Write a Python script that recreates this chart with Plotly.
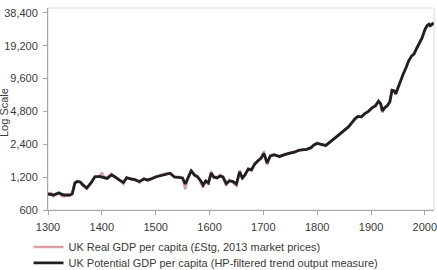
import plotly.graph_objects as go

years = [1300, 1305, 1310, 1315, 1320, 1325, 1330, 1335, 1340, 1345, 1350, 1355, 1360, 1365, 1372,
         1380, 1387, 1395, 1400, 1405, 1410, 1418, 1425, 1432, 1440, 1446, 1455, 1462, 1470, 1478,
         1485, 1492, 1500, 1510, 1520, 1527, 1535, 1545, 1550, 1555, 1560, 1566, 1572, 1578, 1584,
         1588, 1593, 1598, 1603, 1608, 1614, 1620, 1625, 1631, 1637, 1643, 1650, 1656, 1661, 1666,
         1672, 1678, 1684, 1690, 1696, 1701, 1707, 1713, 1720, 1730, 1740, 1750, 1757, 1765, 1772,
         1780, 1788, 1794, 1800, 1808, 1816, 1822, 1830, 1838, 1845, 1852, 1858, 1865, 1870, 1876,
         1882, 1888, 1895, 1902, 1908, 1914, 1918, 1921, 1925, 1930, 1935, 1939, 1943, 1946, 1950,
         1955, 1960, 1965, 1970, 1975, 1980, 1985, 1990, 1995, 2000, 2004, 2008, 2010, 2013, 2016]

real_gdp = [830, 860, 800, 850, 870, 810, 800, 820, 810, 870, 1080, 1110, 1070, 1000, 940,
            1080, 1230, 1200, 1320, 1170, 1190, 1290, 1180, 1150, 1040, 1200, 1140, 1150, 1070, 1170,
            1110, 1170, 1220, 1260, 1300, 1290, 1190, 1210, 1160, 930, 1200, 1400, 1240, 1230, 1080,
            960, 1130, 1020, 1360, 1180, 1200, 1260, 1180, 1000, 1130, 1070, 1000, 1390, 1150, 1290,
            1400, 1440, 1550, 1730, 1760, 2080, 1560, 1900, 1950, 1830, 1960, 1980, 2060, 2090, 2150,
            2130, 2250, 2350, 2480, 2380, 2330, 2490, 2640, 2850, 3040, 3280, 3450, 3830, 4080, 4360,
            4250, 4600, 4780, 5220, 5380, 6050, 5700, 4700, 5120, 5350, 5950, 7600, 7400, 6850, 7950,
            9100, 10600, 12100, 14000, 15300, 16100, 18300, 20500, 22800, 27100, 29500, 30400, 29200, 29900, 31300]

potential_gdp = [841, 835, 824, 840, 859, 840, 824, 826, 824, 841, 1061, 1096, 1084, 1018, 955,
                 1061, 1205, 1218, 1205, 1180, 1168, 1257, 1205, 1131, 1073, 1180, 1155, 1131, 1096, 1155,
                 1131, 1155, 1205, 1244, 1284, 1305, 1205, 1192, 1180, 1039, 1180, 1368, 1257, 1205, 1107,
                 1018, 1107, 1061, 1305, 1205, 1180, 1231, 1205, 1050, 1107, 1096, 1039, 1340, 1180, 1257,
                 1427, 1397, 1586, 1690, 1800, 1980, 1620, 1878, 1919, 1858, 1938, 2001, 2020, 2110, 2132,
                 2155, 2224, 2370, 2446, 2395, 2345, 2472, 2662, 2836, 3055, 3254, 3466, 3811, 4106, 4328,
                 4290, 4563, 4810, 5179, 5402, 5945, 5640, 4860, 5179, 5402, 5880, 7490, 7420, 6966, 7907,
                 9070, 10620, 12060, 13990, 15380, 16210, 18220, 20670, 22740, 26910, 29300, 30230, 29300, 29920, 31220]

y_ticks = [600, 1200, 2400, 4800, 9600, 19200, 38400]
y_tick_labels = ["600", "1,200", "2,400", "4,800", "9,600", "19,200", "38,400"]
x_ticks = [1300, 1400, 1500, 1600, 1700, 1800, 1900, 2000]

FONT = "Arial, Liberation Sans, Helvetica, sans-serif"
TXT = "#3a3a3a"

fig = go.Figure()
fig.add_trace(go.Scatter(x=years, y=real_gdp, mode="lines",
                         line=dict(color="#d99ea6", width=2.5), legend="legend",
                         name="UK Real GDP per capita (£Stg, 2013 market prices)"))
fig.add_trace(go.Scatter(x=years, y=potential_gdp, mode="lines",
                         line=dict(color="#231f20", width=2.8), legend="legend2",
                         name="UK Potential GDP per capita (HP-filtered trend output measure)"))

fig.add_shape(type="rect", xref="paper", yref="paper", x0=0, y0=0, x1=1, y1=1,
              line=dict(color="#d9d9d9", width=1), layer="below")

leg_common = dict(x=-0.0505, xanchor="left", yanchor="middle",
                  bgcolor="rgba(0,0,0,0)", font=dict(size=11, color=TXT), itemwidth=30)

fig.update_layout(
    width=437, height=270,
    margin=dict(l=48, r=3, t=8, b=60, autoexpand=False),
    paper_bgcolor="white", plot_bgcolor="white",
    font=dict(family=FONT, size=11, color=TXT),
    showlegend=True,
    legend=dict(y=-0.183, **leg_common),
    legend2=dict(y=-0.262, **leg_common),
    xaxis=dict(range=[1300, 2017], tickvals=x_ticks, showgrid=False, zeroline=False,
               showline=True, linecolor="#a6a6a6", linewidth=1, ticklabeloverflow="allow",
               ticks="outside", ticklen=4, tickcolor="#a6a6a6", ticklabelstandoff=3),
    yaxis=dict(type="log", range=[2.77815, 4.6294], tickvals=y_ticks, ticktext=y_tick_labels,
               showgrid=False, zeroline=False, showline=True, linecolor="#a6a6a6", linewidth=1,
               ticks="outside", ticklen=4, tickcolor="#a6a6a6", ticklabeloverflow="allow",
               ticklabelstandoff=3),
    annotations=[dict(text="Log Scale", xref="paper", yref="paper", x=-0.114, y=0.485,
                      xanchor="center", yanchor="middle", textangle=-90, showarrow=False,
                      font=dict(size=11, color=TXT))],
)

fig.write_html("out.html")
